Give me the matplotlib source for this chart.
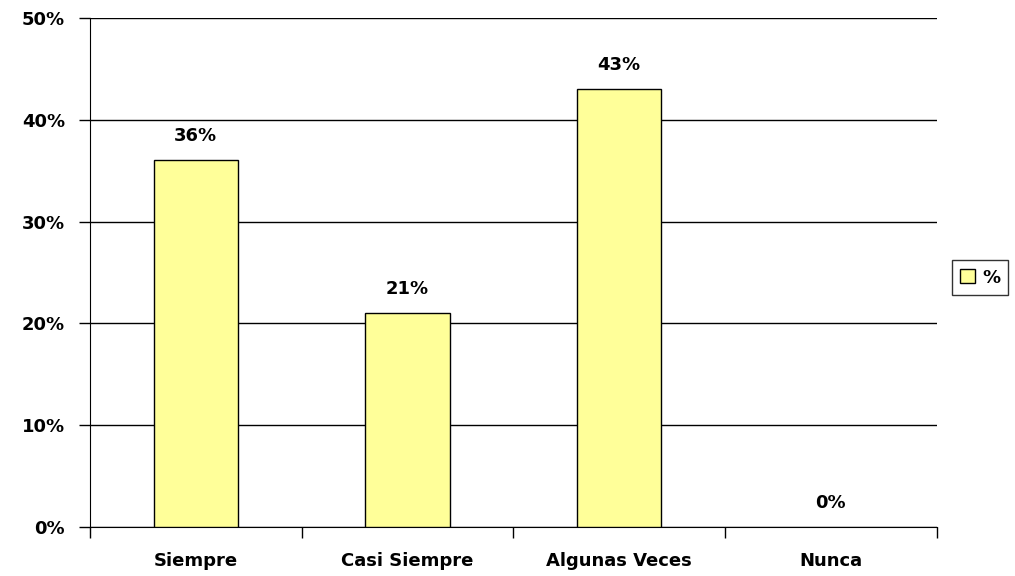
import matplotlib.pyplot as plt
from matplotlib.ticker import FuncFormatter

# Data

categories = ['Siempre', 'Casi Siempre', 'Algunas Veces', 'Nunca']
values = [36, 21, 43, 0]
series_name = '%'

plt.rcParams['font.family'] = ['DejaVu Sans']
plt.rcParams['font.weight'] = 'bold'

fig = plt.figure(figsize=(10.15, 5.76), dpi=100)
ax = fig.add_axes([0.0887, 0.085, 0.834, 0.884])

x = range(len(categories))
bars = ax.bar(x, values, width=0.4, color='#FFFF99', edgecolor='black',
              linewidth=[1 if v > 0 else 0 for v in values],
              label=series_name, zorder=3)

for b, v in zip(bars, values):
    ax.text(b.get_x() + b.get_width() / 2, v + 1.5, f'{v}%',
            ha='center', va='bottom', fontsize=13, fontweight='bold')

ax.set_xlim(-0.5, len(categories) - 0.5)
ax.set_ylim(0, 50)
ax.set_yticks(range(0, 51, 10))
ax.yaxis.set_major_formatter(FuncFormatter(lambda v, p: f'{int(v)}%'))
ax.tick_params(axis='y', labelsize=13, length=8, width=1, direction='out', pad=10)

# category labels centred, tick marks between categories
ax.set_xticks([i - 0.5 for i in range(len(categories) + 1)])
ax.set_xticklabels([])
ax.set_xticks(list(x), minor=True)
ax.set_xticklabels(categories, minor=True, fontsize=13, fontweight='bold')
ax.tick_params(axis='x', which='major', length=8, width=1, direction='out')
ax.tick_params(axis='x', which='minor', length=0, pad=18)

ax.grid(axis='y', color='black', linewidth=1, zorder=0)
ax.spines['top'].set_visible(False)
ax.spines['right'].set_visible(False)

leg = ax.legend(loc='center left', bbox_to_anchor=(1.008, 0.49), frameon=True,
                fancybox=False, edgecolor='black', fontsize=13,
                handlelength=0.8, handleheight=0.8, handletextpad=0.4,
                borderpad=0.45)
leg.get_frame().set_linewidth(1)

fig.savefig('out.png', dpi=100)
